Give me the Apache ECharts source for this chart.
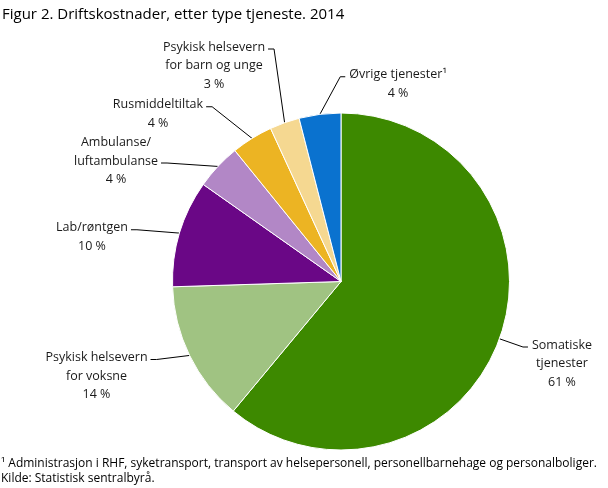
<!DOCTYPE html>
<html>
<head>
<meta charset="utf-8">
<script src="https://cdn.jsdelivr.net/npm/echarts@6/dist/echarts.min.js"></script>
<style>
html,body{margin:0;padding:0;background:#fff;}
#c{width:608px;height:488px;}
</style>
</head>
<body>
<div id="c"></div>
<script>
const categories = ['Somatiske\ntjenester', 'Psykisk helsevern\nfor voksne', 'Lab/røntgen', 'Ambulanse/\nluftambulanse', 'Rusmiddeltiltak', 'Psykisk helsevern\nfor barn og unge', 'Øvrige tjenester¹'];
const values = [61.04, 13.46, 10.27, 4.39, 3.98, 2.86, 4.0];
const pctLabels = ['61 %', '14 %', '10 %', '4 %', '4 %', '3 %', '4 %'];
const colors = ['#3d8900', '#a0c382', '#6a0786', '#b287c6', '#ecb423', '#f5d891', '#0a72cf'];
// label layout (style): center of text block, and which text line the leader attaches to
const labelPos = [[562, 363.5], [96.5, 376], [92, 237], [116, 161], [158, 114], [214, 65.5], [398, 84]];
const attachLine = [0, 0, 0, 1, 0, 0, 0];

const FONT = '"Open Sans", sans-serif';
const FS = 12.5, LH = 18.5;
const ctx = document.createElement('canvas').getContext('2d');
ctx.font = FS + 'px "Open Sans"';
function lineWidth(s) { return ctx.measureText(s).width; }

const chart = echarts.init(document.getElementById('c'));
chart.setOption({
  animation: false,
  title: [{
    text: 'Figur 2. Driftskostnader, etter type tjeneste. 2014',
    left: 2, top: 7, padding: 0,
    textStyle: {fontFamily: FONT, fontSize: 15, fontWeight: 'normal', color: '#000'}
  }, {
    text: '¹ Administrasjon i RHF, syketransport, transport av helsepersonell, personellbarnehage og personalboliger.\nKilde: Statistisk sentralbyrå.',
    left: 1, top: 456, padding: 0,
    textStyle: {fontFamily: FONT, fontSize: 12, fontWeight: 'normal', color: '#000', lineHeight: 15}
  }],
  series: [{
    type: 'pie',
    center: [341, 281.5],
    radius: [0, 168.5],
    startAngle: 90,
    clockwise: true,
    avoidLabelOverlap: false,
    itemStyle: {borderColor: '#fff', borderWidth: 1},
    label: {
      show: true,
      position: 'outside',
      fontFamily: FONT,
      fontSize: FS,
      color: '#1a1a1a',
      lineHeight: LH,
      align: 'center',
      formatter: p => categories[p.dataIndex] + '\n' + pctLabels[p.dataIndex]
    },
    labelLine: {show: true, length: 10, length2: 10, lineStyle: {color: '#000', width: 1}},
    labelLayout: p => {
      const i = p.dataIndex;
      const [x, y] = labelPos[i];
      const lines = (categories[i] + '\n' + pctLabels[i]).split('\n');
      const k = attachLine[i];
      const ly = y - (lines.length - 1) * LH / 2 + k * LH + 2;
      const half = lineWidth(lines[k]) / 2;
      const start = p.labelLinePoints ? p.labelLinePoints[0] : null;
      const out = {x, y, align: 'center', verticalAlign: 'middle'};
      if (start) {
        const leftSide = x < start[0];
        const ex = leftSide ? x + half + 3 : x - half - 4;
        const mx = leftSide ? ex + 6 : ex - 5;
        out.labelLinePoints = [start, [mx, ly], [ex, ly]];
      }
      return out;
    },
    emphasis: {disabled: true},
    data: values.map((v, i) => ({value: v, name: categories[i], itemStyle: {color: colors[i]}}))
  }]
});
</script>
</body>
</html>
